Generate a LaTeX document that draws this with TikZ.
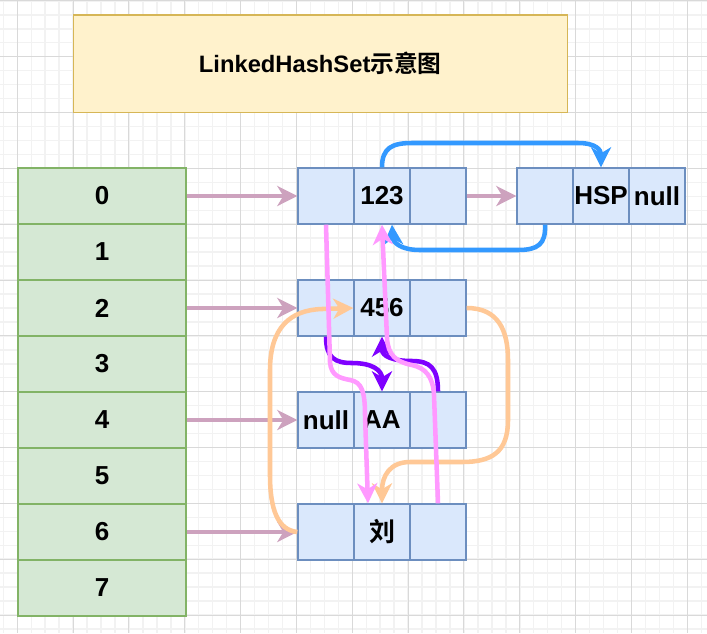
\documentclass[tikz,border=0pt]{standalone}
\usepackage{fontspec}
\setmainfont{Liberation Sans}
\newfontfamily\cjk{Noto Sans CJK SC}[BoldFont={Noto Sans CJK SC Bold}]
\usetikzlibrary{arrows.meta,calc}
\definecolor{gridminor}{HTML}{F2F2F2}
\definecolor{gridmajor}{HTML}{D9D9D9}
\definecolor{titlefill}{HTML}{FFF2CC}
\definecolor{titledraw}{HTML}{D6B656}
\definecolor{arrfill}{HTML}{D5E8D4}
\definecolor{arrdraw}{HTML}{82B366}
\definecolor{cellfill}{HTML}{DAE8FC}
\definecolor{celldraw}{HTML}{6C8EBF}
\definecolor{mauve}{HTML}{CDA2BE}
\definecolor{bluec}{HTML}{3399FF}
\definecolor{pinkc}{HTML}{FF99FF}
\definecolor{purplec}{HTML}{7F00FF}
\definecolor{orangec}{HTML}{FFC896}
\tikzset{
  arrrow/.style={draw=arrdraw, fill=arrfill, line width=1.05pt, minimum width=126pt, minimum height=42pt, inner sep=0pt, font=\fontsize{19.5}{22}\selectfont\bfseries},
  cell/.style={draw=celldraw, fill=cellfill, line width=1.05pt, minimum width=42pt, minimum height=42pt, inner sep=0pt, font=\fontsize{19.5}{22}\selectfont\bfseries},
  conn/.style={line width=3.4pt, -{Stealth[length=15pt,width=15pt,inset=4.5pt]}},
  minorline/.style={draw=gridminor, line width=1.1pt},
  majorline/.style={draw=gridmajor, line width=0.75pt}
}
\begin{document}
\begin{tikzpicture}[x=0.75pt,y=-0.75pt]
\useasboundingbox (0,0) rectangle (707,633);
\fill[white] (0,0) rectangle (707,633);
% grid
\foreach \i in {-2,...,50} {
  \draw[minorline] ({17.3+13.958*\i},0) -- ({17.3+13.958*\i},633);
}
\foreach \i in {0,...,46} {
  \draw[minorline] (0,{0.87+13.958*\i}) -- (707,{0.87+13.958*\i});
}
\foreach \i in {0,...,12} {
  \draw[majorline] ({17.3+55.83*\i},0) -- ({17.3+55.83*\i},633);
}
\foreach \i in {0,...,11} {
  \draw[majorline] (0,{0.87+55.83*\i}) -- (707,{0.87+55.83*\i});
}
% title
\node[draw=titledraw, fill=titlefill, line width=1.05pt, minimum width=370.5pt, minimum height=73pt, inner sep=0pt, font=\fontsize{17.8}{20}\selectfont\bfseries] (title) at (320.3,63.7) {LinkedHashSet{\cjk 示意图}};
% array
\foreach \k in {0,...,7} {
  \node[arrrow] (r\k) at (102,{196+56*\k}) {\k};
}
% linked nodes
\node[cell] (n0a) at (326,196) {};
\node[cell] (n0b) at (382,196) {123};
\node[cell] (n0c) at (438,196) {};
\node[cell] (ha) at (545,196) {};
\node[cell] (hb) at (601,196) {HSP};
\node[cell] (hc) at (657,196) {null};
\node[cell] (n2a) at (326,308) {};
\node[cell] (n2b) at (382,308) {456};
\node[cell] (n2c) at (438,308) {};
\node[cell] (n4a) at (326,420) {null};
\node[cell] (n4b) at (382,420) {AA};
\node[cell] (n4c) at (438,420) {};
\node[cell] (n6a) at (326,532) {};
\node[cell] (n6b) at (382,532) {{\cjk 刘}};
\node[cell] (n6c) at (438,532) {};
% table links
\draw[conn, mauve] (r0.east) -- (n0a.west);
\draw[conn, mauve] (r2.east) -- (n2a.west);
\draw[conn, mauve] (r4.east) -- (n4a.west);
\draw[conn, mauve] (r6.east) -- (n6a.west);
\draw[conn, mauve] (n0c.east) -- (ha.west);
% blue
\draw[conn, bluec] (n0b.north) .. controls (382,148) and (392,143) .. (412,143) -- (578,143) .. controls (596,143) and (601,150) .. (hb.north);
\draw[conn, bluec] (ha.south) .. controls (546,244) and (538,250) .. (518,250) -- (420,250) .. controls (400,250) and (393,242) .. ($(n0b.south)+(10,0)$);
% orange
\draw[conn, orangec] (n2c.east) .. controls (498,308) and (508,330) .. (508,360) -- (508,420) .. controls (508,452) and (492,462) .. (462,462) -- (410,462) .. controls (390,462) and (382,476) .. (n6b.north);
\draw[conn, orangec] (n6a.west) .. controls (278,530) and (270,510) .. (270,475) -- (270,370) .. controls (270,328) and (290,310) .. (322,309) -- (n2b.west);
% purple
\draw[conn, purplec] (n2a.south) .. controls (326,358) and (335,363) .. (352,363) .. controls (372,363) and (382,370) .. (n4b.north);
\draw[conn, purplec] (n4c.north) .. controls (438,368) and (430,361) .. (412,361) .. controls (392,361) and (382,356) .. (n2b.south);
% pink
\draw[conn, pinkc] (n0a.south) -- (330,362) .. controls (331,376) and (340,378) .. (350,380) .. controls (362,382) and (365,392) .. (365,415) -- ($(n6b.north)+(-14,0)$);
\draw[conn, pinkc] (n6c.north) -- (434,395) .. controls (433,376) and (425,368) .. (412,365) .. controls (396,362) and (388,355) .. (387,338) -- (n0b.south);
\end{tikzpicture}
\end{document}
